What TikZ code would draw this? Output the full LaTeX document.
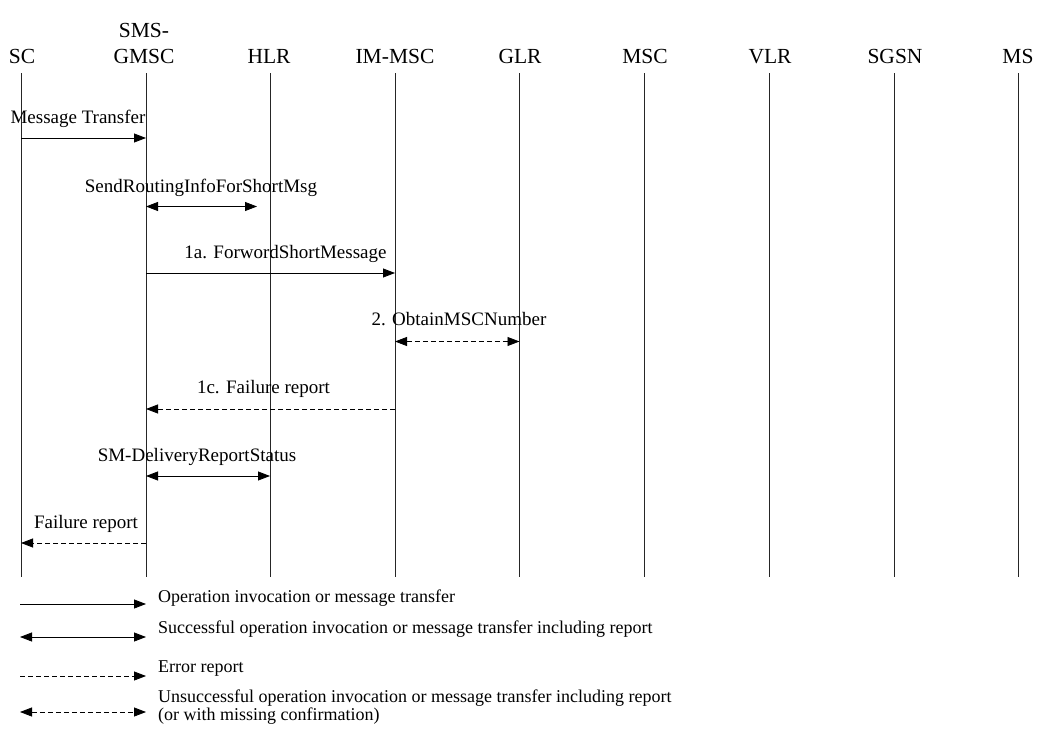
\documentclass[tikz,border=0pt]{standalone}
\usepackage{fontspec}
\setmainfont{Liberation Serif}
\usetikzlibrary{arrows.meta}
\begin{document}
\begin{tikzpicture}[x=1pt,y=-1pt,
  hdr/.style={font=\fontsize{21.5}{24}\selectfont, anchor=base, inner sep=0pt},
  lbl/.style={font=\fontsize{19}{22}\selectfont, anchor=base, inner sep=0pt},
  leg/.style={font=\fontsize{18}{15}\selectfont, anchor=base west, inner sep=0pt},
  life/.style={draw=black!85, line width=0.9pt},
  tip/.tip={Triangle[length=12pt,width=9pt]},
  msg/.style={line width=0.8pt, -tip},
  bmsg/.style={line width=0.8pt, tip-tip},
  err/.style={line width=0.8pt, -tip, dash pattern=on 5pt off 3pt},
  berr/.style={line width=0.8pt, tip-tip, dash pattern=on 5pt off 3pt}]
\useasboundingbox (0,0) rectangle (1039,731);

% headers
\node[hdr] (sc) at (22,63) {SC};
\node[hdr] (gmsctop) at (144,37) {SMS-};
\node[hdr] (gmsc) at (144,63) {GMSC};
\node[hdr] (hlr) at (269,63) {HLR};
\node[hdr] (immsc) at (395,63) {IM-MSC};
\node[hdr] (glr) at (520,63) {GLR};
\node[hdr] (msc) at (645,63) {MSC};
\node[hdr] (vlr) at (770,63) {VLR};
\node[hdr] (sgsn) at (895,63) {SGSN};
\node[hdr] (ms) at (1018,63) {MS};

% lifelines
\foreach \n/\x in {sc/21, gmsc/146, hlr/270, immsc/395, glr/519.5, msc/644, vlr/769, sgsn/894, ms/1018}{
  \coordinate (\n T) at (\x,73);
  \coordinate (\n B) at (\x,577);
  \draw[life] (\n T) -- (\n B);
}

% messages
\node[lbl] (l1) at (78,123) {Message Transfer};
\coordinate (m1a) at (21,138); \coordinate (m1b) at (146,138);
\draw[msg] (m1a) -- (m1b);

\node[lbl] (l2) at (201,192) {SendRoutingInfoForShortMsg};
\coordinate (m2a) at (146,206.5); \coordinate (m2b) at (257,206.5);
\draw[bmsg] (m2a) -- (m2b);

\node[lbl] (l3) at (285.5,258) {1a. ForwordShortMessage};
\coordinate (m3a) at (146,273); \coordinate (m3b) at (395,273);
\draw[msg] (m3a) -- (m3b);

\node[lbl] (l4) at (459,325) {2. ObtainMSCNumber};
\coordinate (m4a) at (395,341.5); \coordinate (m4b) at (519.5,341.5);
\draw[berr] (m4a) -- (m4b);

\node[lbl] (l5) at (263.5,393) {1c. Failure report};
\coordinate (m5a) at (395,409); \coordinate (m5b) at (146,409);
\draw[err] (m5a) -- (m5b);

\node[lbl] (l6) at (197,461) {SM-DeliveryReportStatus};
\coordinate (m6a) at (146,476); \coordinate (m6b) at (270,476);
\draw[bmsg] (m6a) -- (m6b);

\node[lbl] (l7) at (86,528) {Failure report};
\coordinate (m7a) at (146,543); \coordinate (m7b) at (21,543);
\draw[err] (m7a) -- (m7b);

% legend
\coordinate (g1a) at (20,604); \coordinate (g1b) at (146,604);
\draw[msg] (g1a) -- (g1b);
\node[leg] (t1) at (158,602) {Operation invocation or message transfer};

\coordinate (g2a) at (20,637); \coordinate (g2b) at (146,637);
\draw[bmsg] (g2a) -- (g2b);
\node[leg] (t2) at (158,633) {Successful operation invocation or message transfer including report};

\coordinate (g3a) at (20,676); \coordinate (g3b) at (146,676);
\draw[err] (g3a) -- (g3b);
\node[leg] (t3) at (158,672) {Error report};

\coordinate (g4a) at (20,712); \coordinate (g4b) at (146,712);
\node[leg, align=left] (t4) at (158,720) {Unsuccessful operation invocation or message transfer including report\\[0pt](or with missing confirmation)};
\draw[berr] (g4a) -- (g4b);
\end{tikzpicture}
\end{document}
